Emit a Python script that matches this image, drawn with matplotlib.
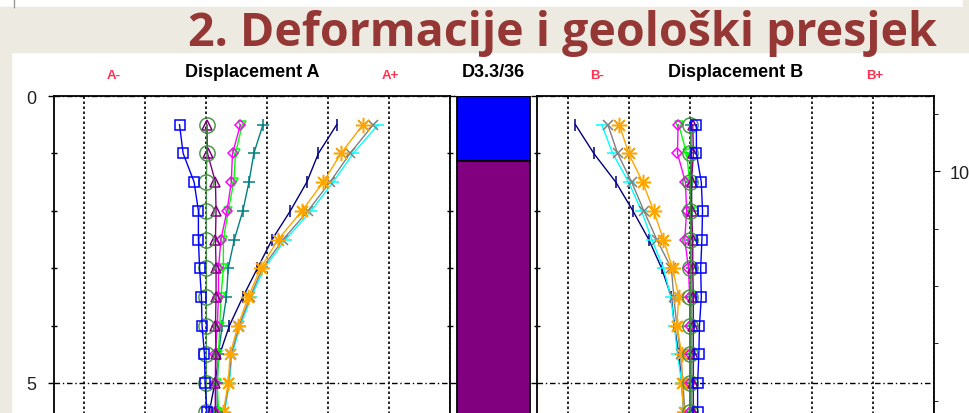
import matplotlib
matplotlib.use('Agg')
import matplotlib.pyplot as plt
from matplotlib.patches import Rectangle
from matplotlib.lines import Line2D
from matplotlib.ticker import MultipleLocator

W, H = 970, 414
plt.rcParams['font.family'] = ['Liberation Sans', 'DejaVu Sans']

# depth of the measuring points (m)
depths = [0.5, 1.0, 1.5, 2.0, 2.5, 3.0, 3.5, 4.0, 4.5, 5.0, 5.5, 6.0]

# displacement A (mm) per reading
a_navy    = [21.4, 18.4, 16.5, 13.8, 10.8, 8.4, 6.0, 3.8, 2.2, 1.4, 0.5, 0.3]
a_cyan    = [28.2, 24.1, 20.8, 17.2, 13.0, 9.5, 7.4, 5.6, 4.2, 3.8, 3.0, 2.6]
a_gray    = [27.4, 23.6, 20.3, 16.7, 12.6, 9.2, 7.2, 5.4, 4.1, 3.7, 2.9, 2.5]
a_orange  = [25.7, 22.1, 19.2, 15.7, 11.8, 8.9, 6.9, 5.2, 3.9, 3.6, 2.8, 2.4]
a_teal    = [9.3, 7.8, 7.0, 6.0, 4.6, 3.6, 3.3, 2.6, 2.0, 1.8, 1.8, 1.8]
a_lime    = [5.9, 4.8, 4.5, 3.6, 2.8, 2.8, 2.4, 2.2, 2.0, 1.8, 2.0, 2.0]
a_magenta = [5.6, 4.3, 4.1, 3.4, 2.4, 2.0, 2.0, 1.8, 1.5, 1.5, 1.5, 1.5]
a_purple  = [0.1, 0.2, 1.5, 1.6, 1.5, 1.6, 1.6, 1.5, 1.6, 1.5, 1.5, 1.5]
a_green   = [0.1, 0.1, 0.0, 0.0, 0.0, 0.0, 0.0, 0.0, 0.0, 0.0, 0.0, 0.0]
a_blue    = [-4.4, -3.8, -2.0, -1.3, -1.3, -1.1, -0.8, -0.7, -0.3, -0.2, 0.1, 0.2]

# displacement B (mm) per reading
b_navy    = [-18.7, -15.7, -12.1, -9.3, -6.7, -4.6, -3.0, -2.5, -1.8, -1.3, -1.0, -0.8]
b_cyan    = [-14.4, -12.6, -10.0, -7.9, -6.2, -4.3, -3.1, -2.5, -2.0, -1.3, -1.0, -0.8]
b_gray    = [-13.4, -11.8, -9.5, -7.5, -5.4, -3.0, -2.6, -2.1, -1.5, -1.1, -0.8, -0.6]
b_orange  = [-11.5, -10.0, -7.7, -5.9, -4.3, -2.8, -1.8, -2.1, -1.3, -1.3, -1.0, -0.8]
b_teal    = [0.2, 0.2, 0.3, 0.3, 0.3, 0.3, 0.3, 0.3, 0.3, 0.3, 0.3, 0.3]
b_lime    = [-1.8, -0.5, 0.0, 0.2, 0.3, 0.3, 0.3, 0.3, 0.3, 0.3, 0.3, 0.3]
b_magenta = [-1.9, -2.0, -0.7, -0.5, -0.8, -0.2, 0.0, 0.0, 0.0, 0.0, 0.0, 0.0]
b_purple  = [0.5, 0.6, 0.3, 0.3, 0.5, 0.5, 0.6, 0.6, 0.6, 0.6, 0.6, 0.6]
b_green   = [0.0, 0.0, 0.0, 0.0, 0.0, 0.0, 0.0, 0.0, 0.0, 0.0, 0.0, 0.0]
b_blue    = [1.1, 1.1, 1.9, 2.1, 2.0, 1.8, 1.9, 1.6, 1.5, 1.3, 1.3, 1.3]

# geological column D3.3/36
layer_top = [0.0, 1.13]
layer_bottom = [1.13, 10.0]
layer_colors = ['#0000FF', '#800080']

x_grid = [-20, -10, 0, 10, 20, 30, 40]
depth_ticks = [0, 5]
right_ticks = [10]

# (name, color, marker, size)
styles = [
    ('navy', '#000080', '|', 8),
    ('cyan', '#00FFFF', '_', 8),
    ('gray', '#808080', 'x', 7),
    ('orange', '#FFA500', (8, 2, 0), 11),
    ('teal', '#008080', '+', 9),
    ('lime', '#00FF00', 'v', 6),
    ('magenta', '#FF00FF', 'D', 5),
    ('purple', '#800080', '^', 7),
    ('green', '#3C8C3C', 'o', 11),
    ('blue', '#0000FF', 's', 7),
]
series_a = dict(navy=a_navy, cyan=a_cyan, gray=a_gray, orange=a_orange, teal=a_teal,
                lime=a_lime, magenta=a_magenta, purple=a_purple, green=a_green, blue=a_blue)
series_b = dict(navy=b_navy, cyan=b_cyan, gray=b_gray, orange=b_orange, teal=b_teal,
                lime=b_lime, magenta=b_magenta, purple=b_purple, green=b_green, blue=b_blue)

beige = '#ECEAE1'
fig = plt.figure(figsize=(9.7, 4.14), dpi=100)


def box(l, t, r, b):
    return [l / W, 1 - b / H, (r - l) / W, (b - t) / H]


# slide background
fig.add_artist(Rectangle((0, 1 - 53 / H), 1, 45 / H, transform=fig.transFigure, color=beige, zorder=0))
fig.add_artist(Rectangle((0, 0), 11 / W, 1 - 8 / H, transform=fig.transFigure, color=beige, zorder=0))
fig.add_artist(Rectangle((963 / W, 1 - 8 / H), 7 / W, 8 / H, transform=fig.transFigure, color=beige, zorder=0))
fig.add_artist(Line2D([14.5 / W, 14.5 / W], [1 - 8 / H, 1], transform=fig.transFigure, color='#999999', lw=1))

fig.text(562 / W, 1 - 46 / H, '2. Deformacije i geološki presjek', ha='center', va='baseline',
         fontsize=33.5, fontweight='bold', color='#953735', family=['Open Sans', 'DejaVu Sans'])


def setup(ax):
    ax.set_xlim(-25, 40)
    ax.set_ylim(10, 0)
    ax.set_xticks(x_grid)
    ax.xaxis.grid(True, color='black', ls=(0, (1.5, 1.5)), lw=1.2)
    ax.tick_params(axis='x', length=0, labelbottom=False)
    ax.set_yticks(depth_ticks)
    ax.yaxis.set_minor_locator(MultipleLocator(1))
    ax.yaxis.grid(True, color='black', ls=(0, (4, 2, 1, 2)), lw=1.0)
    ax.yaxis.set_ticks_position('both')
    ax.tick_params(axis='y', which='major', direction='out', length=4, width=1,
                   labelsize=13, labelcolor='#222222', pad=9)
    ax.tick_params(axis='y', which='minor', direction='inout', length=5, width=1)
    ax.set_axisbelow(True)
    for s in ax.spines.values():
        s.set_linewidth(1.3)


def draw(ax, series):
    for name, color, marker, ms in styles:
        ax.plot(series[name], depths, color=color, marker=marker, ms=ms, mfc='none',
                mew=1.1, lw=1.0, alpha=0.9 if name == 'green' else 1.0)


axA = fig.add_axes(box(54, 97, 450, 671))
setup(axA)
draw(axA, series_a)

axB = fig.add_axes(box(537, 97, 934, 671))
setup(axB)
axB.tick_params(axis='y', labelleft=False)
draw(axB, series_b)

axR = axB.twinx()
axR.set_ylim(8.69 + 10, 8.69)
axR.set_yticks(right_ticks)
axR.yaxis.set_minor_locator(MultipleLocator(1))
axR.tick_params(axis='y', which='major', direction='out', length=4, labelsize=13,
                labelcolor='#222222', pad=7)
axR.tick_params(axis='y', which='minor', direction='out', length=3)
for s in axR.spines.values():
    s.set_visible(False)

axM = fig.add_axes(box(450, 97, 537, 671))
axM.set_xlim(0, 1)
axM.set_ylim(10, 0)
axM.axis('off')
for top, bottom, c in zip(layer_top, layer_bottom, layer_colors):
    axM.bar(0.5, bottom - top, bottom=top, width=0.84, color=c, edgecolor='black', lw=1.3)

# panel headings
for cx, title in [(252, 'Displacement A'), (493.5, 'D3.3/36'), (735.5, 'Displacement B')]:
    fig.text(cx / W, 1 - 77 / H, title, ha='center', va='baseline', fontsize=13, fontweight='bold')
for cx, lab in [(114, 'A-'), (390, 'A+'), (597, 'B-'), (875, 'B+')]:
    fig.text(cx / W, 1 - 79 / H, lab, ha='center', va='baseline', fontsize=9.5, fontweight='bold',
             color='#FF3050')

fig.savefig('out.png', dpi=100)
